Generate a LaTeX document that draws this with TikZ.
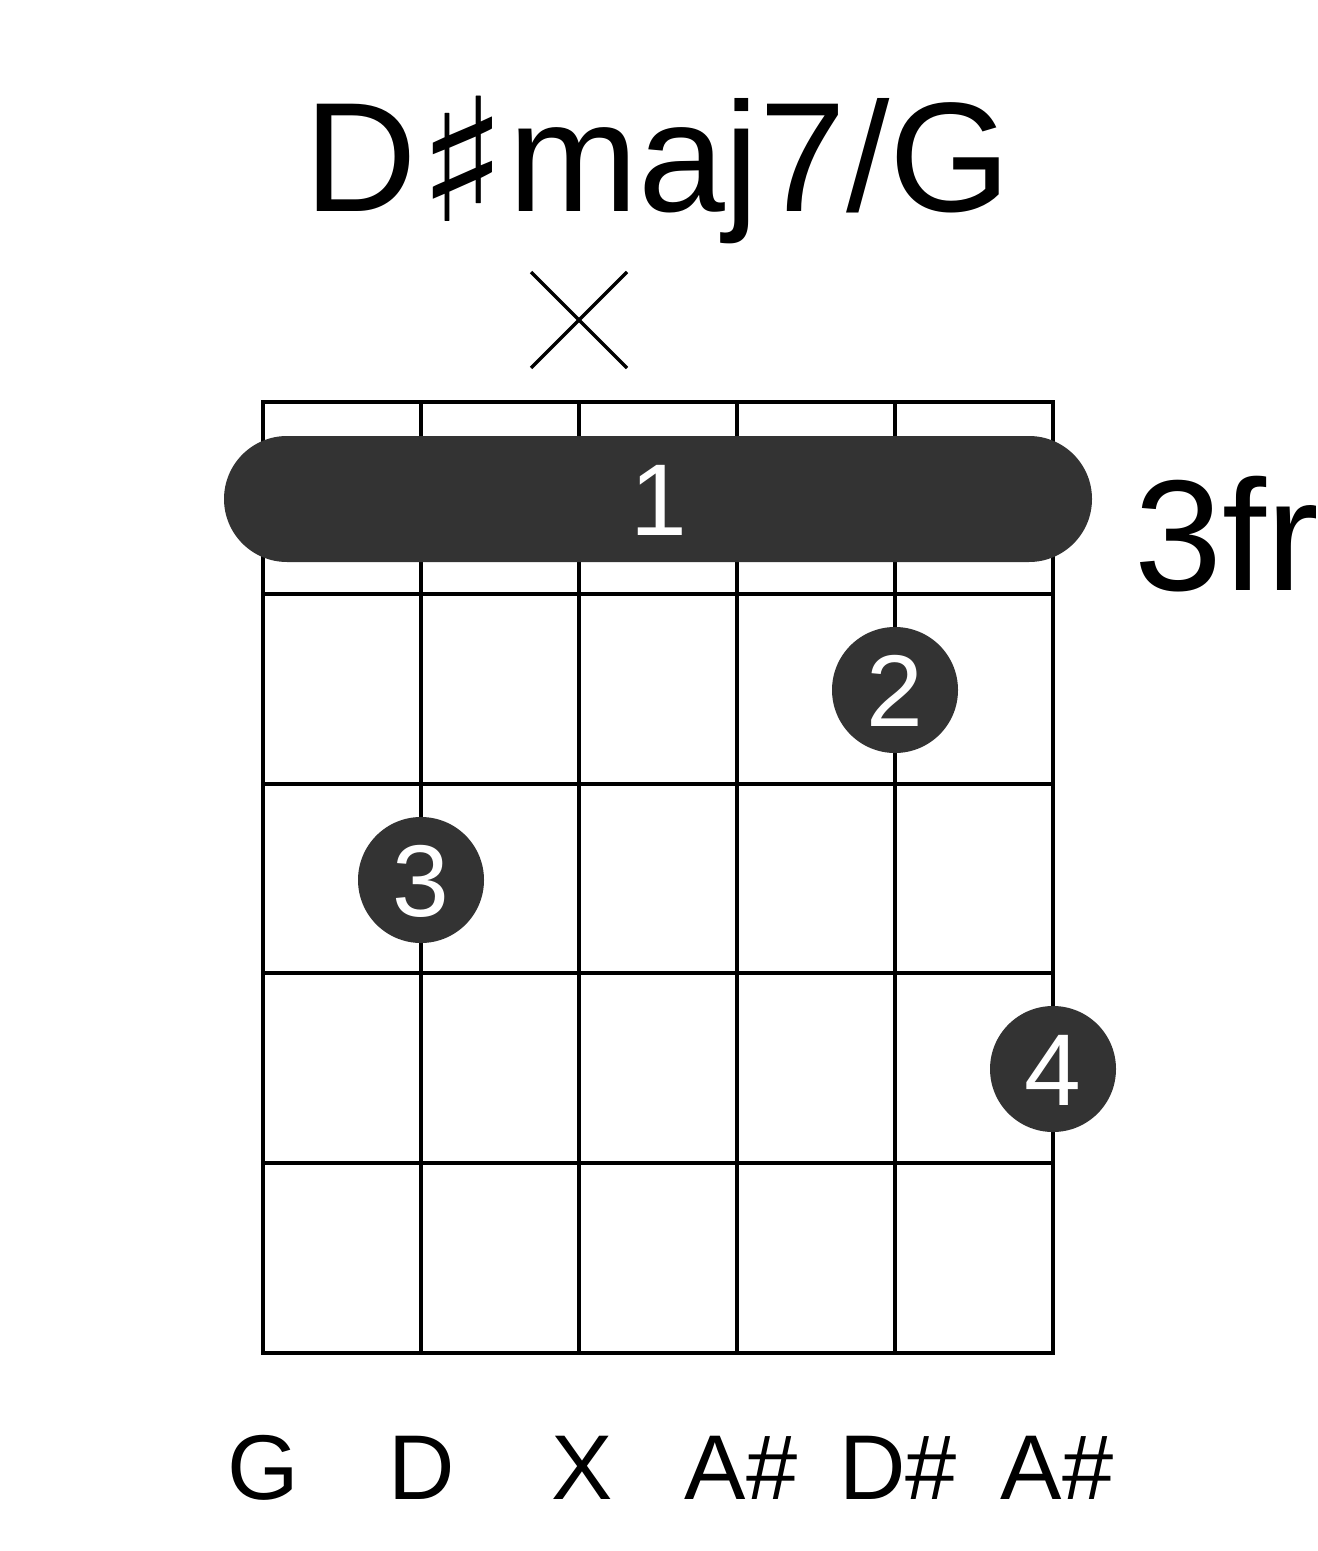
\documentclass[tikz,border=0pt]{standalone}
\usepackage{fontspec}
\usepackage{graphicx}
\setmainfont{Liberation Sans}
\newfontfamily\symfont{DejaVu Sans}
\definecolor{dotgray}{HTML}{333333}
\begin{document}
\begin{tikzpicture}[x=0.5pt,y=-0.5pt,
  gridline/.style={line width=2.4pt,black},
  fingerdot/.style={circle,fill=dotgray,minimum size=63pt,inner sep=0pt},
  fingernum/.style={text=white,font=\fontsize{51}{51}\selectfont,anchor=base,inner sep=0pt},
  strlabel/.style={font=\fontsize{46}{46}\selectfont,anchor=base,inner sep=0pt},
  mutemark/.style={line width=1.6pt}]
\useasboundingbox (0,0) rectangle (1317,1551);
% title
\node[anchor=base,inner sep=0pt,font=\fontsize{78}{78}\selectfont] (title) at (658,212) {D{\symfont\bfseries\raisebox{-5pt}{\scalebox{1.2}[1.1]{♯}}}maj7/G};
% mute marker
\coordinate (m1) at (531,272); \coordinate (m2) at (627,368);
\coordinate (m3) at (627,272); \coordinate (m4) at (531,368);
\draw[mutemark] (m1) -- (m2);
\draw[mutemark] (m3) -- (m4);
% grid
\foreach \i/\x in {0/263,1/421,2/579,3/737,4/895,5/1053} {
  \coordinate (s\i t) at (\x,402);
  \coordinate (s\i b) at (\x,1353);
  \draw[gridline] (s\i t) -- (s\i b);
}
\foreach \j/\y in {0/402,1/594,2/784,3/973,4/1163,5/1353} {
  \coordinate (f\j l) at (263,\y);
  \coordinate (f\j r) at (1053,\y);
  \draw[gridline,line cap=rect] (f\j l) -- (f\j r);
}
% barre
\fill[dotgray,rounded corners=31.5pt] (224,436) rectangle (1092,562);
\node[fingernum] (n1) at (659,535) {1};
% dots
\node[fingerdot] (d2) at (895,690) {};
\node[fingernum] at (895,726) {2};
\node[fingerdot] (d3) at (421,880) {};
\node[fingernum] at (421,916) {3};
\node[fingerdot] (d4) at (1053,1069) {};
\node[fingernum] at (1053,1105) {4};
% fret label
\node[anchor=base west,inner sep=0pt,font=\fontsize{79}{79}\selectfont] (fr) at (1134,590) {3fr};
% string labels
\node[strlabel] (l0) at (263,1499) {G};
\node[strlabel] (l1) at (422,1499) {D};
\node[strlabel] (l2) at (582,1499) {X};
\node[strlabel] (l3) at (741,1499) {A\#};
\node[strlabel] (l4) at (898,1499) {D\#};
\node[strlabel] (l5) at (1057,1499) {A\#};
\end{tikzpicture}
\end{document}
